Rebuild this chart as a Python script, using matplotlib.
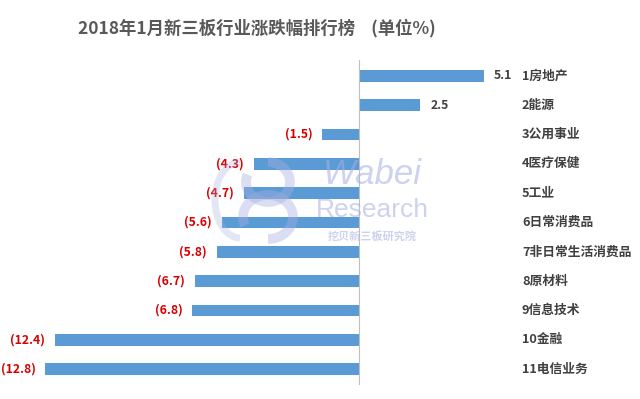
import matplotlib
matplotlib.use("Agg")
import matplotlib.pyplot as plt
from matplotlib.patches import Arc

plt.rcParams['font.family'] = ['Noto Sans CJK SC', 'DejaVu Sans']

# data
categories = ["1房地产", "2能源", "3公用事业", "4医疗保健", "5工业", "6日常消费品",
              "7非日常生活消费品", "8原材料", "9信息技术", "10金融", "11电信业务"]
values = [5.1, 2.5, -1.5, -4.3, -4.7, -5.6, -5.8, -6.7, -6.8, -12.4, -12.8]
title = "2018年1月新三板行业涨跌幅排行榜    (单位%)"

bar_color = "#5B9BD5"
text_color = "#404040"
neg_color = "#D80000"

fig = plt.figure(figsize=(6.4, 3.99), dpi=100)
ax = fig.add_axes([0, 1 - 385 / 399, 1, 325 / 399])

y = list(range(len(categories)))
ax.barh(y, values, height=0.4, color=bar_color, zorder=2)
ax.axvline(0, color="#BFBFBF", lw=0.8, zorder=3)

px = 24.5  # pixels per unit
ax.set_xlim(-359 / px, (640 - 359) / px)
ax.set_ylim((385 - 75.7) / 29.35, (60 - 75.7) / 29.35)
ax.axis("off")

gap = 10 / px
for i, v in enumerate(values):
    if v >= 0:
        ax.text(v + gap, i, f"{v:.1f}", ha="left", va="center",
                fontsize=8.8, fontweight="bold", color=text_color)
    else:
        ax.text(v - gap, i, f"({-v:.1f})", ha="right", va="center",
                fontsize=8.8, fontweight="bold", color=neg_color)
    ax.text((522 - 359) / px, i, categories[i], ha="left", va="center",
            fontsize=9.2, fontweight="bold", color=text_color)

fig.text(257 / 640, 1 - 28 / 399, title, ha="center", va="center",
         fontsize=12.5, fontweight="bold", color="#595959")

# watermark, drawn in pixel coordinates on an overlay
wm = "#A5AEE0"
ov = fig.add_axes([0, 0, 1, 1], zorder=5)
ov.set_xlim(0, 640)
ov.set_ylim(399, 0)
ov.axis("off")
ov.text(372, 175, "Wabei", ha="center", va="center", family="Liberation Sans",
        fontsize=25, style="italic", color=wm, alpha=0.55)
ov.text(372, 210, "Research", ha="center", va="center", family="Liberation Sans",
        fontsize=19, color=wm, alpha=0.55)
ov.text(372, 236, "挖贝新三板研究院", ha="center", va="center",
        fontsize=8, fontweight="bold", color=wm, alpha=0.55)
ov.add_patch(Arc((268, 182), 44, 40, theta1=-90, theta2=200,
                 lw=7, color=wm, alpha=0.4))
ov.add_patch(Arc((268, 217), 50, 44, theta1=-200, theta2=90,
                 lw=7, color=wm, alpha=0.4))
ov.add_patch(Arc((240, 200), 50, 76, theta1=90, theta2=270,
                 lw=5, color=wm, alpha=0.3))

fig.savefig("out.png", dpi=100)
